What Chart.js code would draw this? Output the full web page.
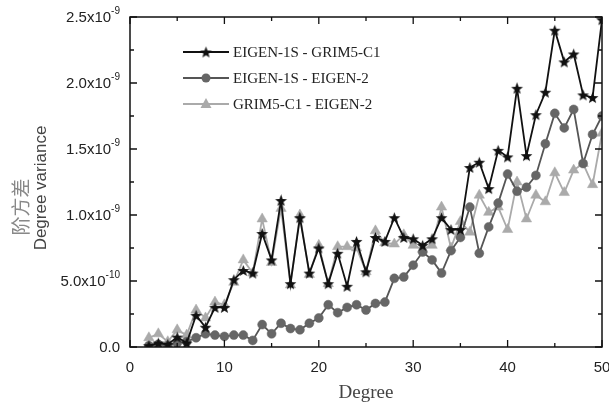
<!DOCTYPE html>
<html>
<head>
<meta charset="utf-8">
<script src="https://cdn.jsdelivr.net/npm/chart.js@4.4.1/dist/chart.umd.min.js"></script>
<style>
  html, body { margin: 0; padding: 0; background: #fff; }
  #wrap { width: 609px; height: 407px; }
</style>
</head>
<body>
<div id="wrap"><canvas id="dv"></canvas></div>
<script>
// degree variance, values in units of 1e-10
const degrees = [2,3,4,5,6,7,8,9,10,11,12,13,14,15,16,17,18,19,20,21,22,23,24,25,26,
                 27,28,29,30,31,32,33,34,35,36,37,38,39,40,41,42,43,44,45,46,47,48,49,50];
const eigen1sGrim = [0.1,0.3,0.2,0.75,0.3,2.4,1.5,3.0,3.0,5.1,5.8,5.6,8.6,6.6,11.1,4.8,9.8,5.6,7.5,4.8,7.1,4.6,8.0,5.7,8.3,
                     8.0,9.8,8.3,8.2,7.7,8.2,9.8,8.9,8.9,13.6,14.0,12.0,14.9,14.4,19.6,14.5,17.6,19.3,24.0,21.6,22.2,19.1,18.9,24.8];
const eigen1sEigen2 = [0.1,0.2,0.1,0.3,0.4,0.7,1.0,0.9,0.8,0.9,0.9,0.5,1.7,1.0,1.8,1.4,1.3,1.8,2.2,3.2,2.6,3.0,3.2,2.8,3.3,
                       3.4,5.2,5.3,6.2,7.2,6.6,5.6,7.3,8.3,10.6,7.1,9.1,10.9,13.1,11.8,12.1,13.0,15.4,17.7,16.6,18.0,13.9,16.1,17.5];
const grimEigen2 = [0.7,1.0,0.4,1.3,0.9,2.8,2.2,3.4,3.2,4.9,6.6,5.6,9.7,6.4,10.5,4.7,10.0,5.5,7.7,4.8,7.6,7.6,7.5,5.7,8.8,
                    7.9,7.8,8.5,7.7,7.4,7.7,10.6,7.5,9.5,8.7,11.5,10.2,10.6,8.9,12.5,9.7,11.5,11.0,13.2,11.7,13.4,13.9,12.3,16.2];

const seriesNames = ['EIGEN-1S - GRIM5-C1', 'EIGEN-1S - EIGEN-2', 'GRIM5-C1 - EIGEN-2'];
const xTicks = [0, 10, 20, 30, 40, 50];
const yTickVals = [0, 5, 10, 15, 20, 25];
const yTickMant = ['0.0', '5.0x10', '1.0x10', '1.5x10', '2.0x10', '2.5x10'];
const yTickExp  = ['', '-10', '-9', '-9', '-9', '-9'];
const yTitle = ['阶方差', 'Degree variance'];
const xTitle = 'Degree';

// filled five point star marker
function makeStar(r, color) {
    const c = document.createElement('canvas');
    const s = Math.ceil(r * 2 + 2);
    c.width = s; c.height = s;
    const g = c.getContext('2d');
    g.fillStyle = color;
    g.beginPath();
    for (let i = 0; i < 10; i++) {
        const rr = i % 2 === 0 ? r : r * 0.42;
        const a = -Math.PI / 2 + i * Math.PI / 5;
        const px = s / 2 + rr * Math.cos(a), py = s / 2 + rr * Math.sin(a) + 0.6;
        i === 0 ? g.moveTo(px, py) : g.lineTo(px, py);
    }
    g.closePath();
    g.fill();
    return c;
}
const starImg = makeStar(6.2, '#111');

const pts = (arr) => degrees.map((d, i) => ({ x: d, y: arr[i] }));

const styles = [
    { line: '#111', fill: '#111', style: starImg, r: 6 },
    { line: '#555', fill: '#666', style: 'circle', r: 4.5 },
    { line: '#aaa', fill: '#aaa', style: 'triangle', r: 6 }
];

const framePlugin = {
    id: 'framePlugin',
    afterDraw: (chart) => {
        const { ctx, chartArea: { left, right, top, bottom }, scales: { x, y } } = chart;
        ctx.save();
        ctx.strokeStyle = '#111';
        ctx.lineWidth = 1.5;
        ctx.strokeRect(left, top, right - left, bottom - top);

        // inward ticks on all four sides
        ctx.lineWidth = 1.3;
        ctx.beginPath();
        for (let v = 0; v <= 50; v += 5) {
            const px = x.getPixelForValue(v);
            const len = v % 10 === 0 ? 7 : 4;
            ctx.moveTo(px, bottom); ctx.lineTo(px, bottom - len);
            ctx.moveTo(px, top); ctx.lineTo(px, top + len);
        }
        for (let v = 0; v <= 25; v += 2.5) {
            const py = y.getPixelForValue(v);
            const len = v % 5 === 0 ? 7 : 4;
            ctx.moveTo(left, py); ctx.lineTo(left + len, py);
            ctx.moveTo(right, py); ctx.lineTo(right - len, py);
        }
        ctx.stroke();

        // y tick labels with superscript exponent
        ctx.fillStyle = '#222';
        ctx.textBaseline = 'middle';
        yTickVals.forEach((v, i) => {
            const py = y.getPixelForValue(v);
            let xr = left - 10;
            ctx.textAlign = 'right';
            if (yTickExp[i]) {
                ctx.font = '10px "Liberation Sans"';
                ctx.fillText(yTickExp[i], xr, py - 6);
                xr -= ctx.measureText(yTickExp[i]).width;
            }
            ctx.font = '15px "Liberation Sans"';
            ctx.fillText(yTickMant[i], xr, py + 1);
        });

        // y axis title, two lines
        const cy = (top + bottom) / 2;
        ctx.save();
        ctx.translate(21, cy + 25);
        ctx.rotate(-Math.PI / 2);
        ctx.textAlign = 'center';
        ctx.fillStyle = '#888';
        ctx.font = '19px "Noto Sans CJK SC"';
        ctx.fillText(yTitle[0], 0, 0);
        ctx.restore();
        ctx.save();
        ctx.translate(41, cy + 6);
        ctx.rotate(-Math.PI / 2);
        ctx.textAlign = 'center';
        ctx.fillStyle = '#444';
        ctx.font = '17px "Liberation Sans"';
        ctx.fillText(yTitle[1], 0, 0);
        ctx.restore();

        // legend: line - marker - line
        const rows = [52, 78, 104];
        chart.data.datasets.forEach((ds, i) => {
            const st = styles[i];
            const ly = rows[i];
            ctx.strokeStyle = st.line;
            ctx.lineWidth = 1.8;
            ctx.beginPath();
            ctx.moveTo(183, ly); ctx.lineTo(229, ly);
            ctx.stroke();
            if (st.style === 'circle') {
                ctx.fillStyle = st.fill;
                ctx.beginPath(); ctx.arc(206, ly, 4.5, 0, Math.PI * 2); ctx.fill();
            } else if (st.style === 'triangle') {
                ctx.fillStyle = st.fill;
                ctx.beginPath();
                ctx.moveTo(206, ly - 6); ctx.lineTo(211.5, ly + 4); ctx.lineTo(200.5, ly + 4);
                ctx.closePath(); ctx.fill();
            } else {
                ctx.drawImage(starImg, 206 - starImg.width / 2, ly - starImg.height / 2);
            }
            ctx.fillStyle = '#222';
            ctx.textAlign = 'left';
            ctx.font = '15px "Liberation Serif"';
            ctx.fillText(seriesNames[i], 233, ly + 1);
        });
        ctx.restore();
    }
};

new Chart(document.getElementById('dv'), {
    type: 'line',
    data: {
        datasets: [eigen1sGrim, eigen1sEigen2, grimEigen2].map((arr, i) => ({
            label: seriesNames[i],
            data: pts(arr),
            borderColor: styles[i].line,
            backgroundColor: styles[i].fill,
            borderWidth: 1.8,
            pointStyle: styles[i].style,
            pointRadius: styles[i].r,
            pointBackgroundColor: styles[i].fill,
            pointBorderColor: styles[i].fill,
            pointBorderWidth: 0.5,
            tension: 0
        }))
    },
    options: {
        responsive: true,
        maintainAspectRatio: false,
        animation: false,
        layout: { padding: { top: 17, left: 130, right: 7, bottom: 0 } },
        scales: {
            x: {
                type: 'linear',
                min: 0, max: 50,
                afterBuildTicks: (s) => { s.ticks = xTicks.map(v => ({ value: v })); },
                afterFit: (s) => { s.height = 60; s.paddingLeft = 0; s.paddingRight = 0; },
                grid: { display: false },
                border: { display: false },
                ticks: { color: '#222', font: { family: 'Liberation Sans', size: 15 }, padding: 4, maxRotation: 0 },
                title: { display: true, text: xTitle, color: '#444',
                         font: { family: 'Liberation Serif', size: 19 }, padding: { top: 0, bottom: 3 } }
            },
            y: {
                min: 0, max: 25,
                afterFit: (s) => { s.width = 0; },
                grid: { display: false },
                border: { display: false },
                ticks: { display: false }
            }
        },
        plugins: {
            legend: { display: false },
            tooltip: { enabled: false }
        }
    },
    plugins: [framePlugin]
});
</script>
</body>
</html>
